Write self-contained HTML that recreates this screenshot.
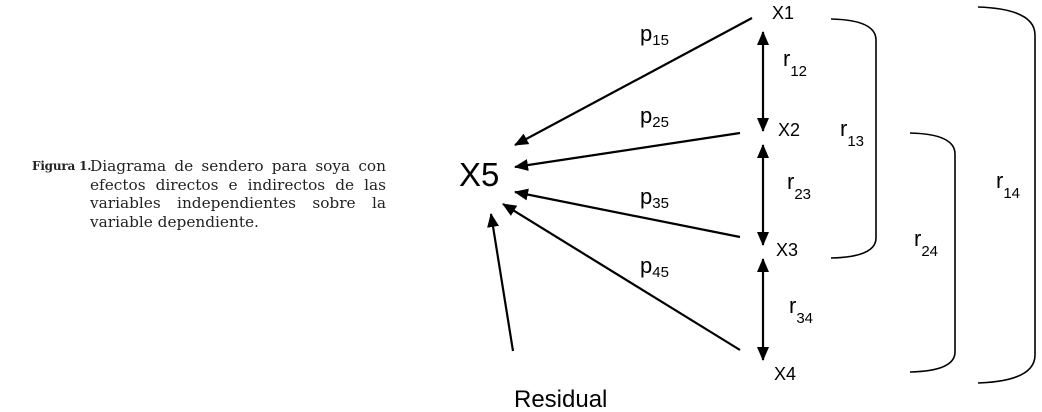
<!DOCTYPE html>
<html><head><meta charset="utf-8"><style>
body{margin:0;background:#fff;width:1042px;height:412px;overflow:hidden;position:relative}
.cap{position:absolute;left:32px;top:157px;font-family:"DejaVu Serif","Liberation Serif",serif;font-size:15.3px;line-height:18.5px;color:#222}
.cap b{position:absolute;left:0;top:0;font-size:12px;letter-spacing:-0.2px}
.cap div{margin-left:58px;width:296px;text-align:justify;text-align-last:left;white-space:normal}
</style></head><body>
<div class="cap"><b>Figura 1.</b><div>Diagrama de sendero para soya con efectos directos e indirectos de las variables independientes sobre la variable dependiente.</div></div>
<svg width="1042" height="412" style="position:absolute;left:0;top:0" font-family="Liberation Sans, sans-serif">
<defs>
<marker id="b" markerWidth="14" markerHeight="12" refX="13" refY="6" orient="auto-start-reverse" markerUnits="userSpaceOnUse"><path d="M0,0 L14,6 L0,12 z" fill="#000"/></marker></defs>
<g stroke="#000" stroke-width="2.2" fill="none">
<line x1="752" y1="18" x2="515" y2="145" marker-end="url(#b)"/>
<line x1="740" y1="133" x2="515" y2="167" marker-end="url(#b)"/>
<line x1="740" y1="237" x2="515" y2="192" marker-end="url(#b)"/>
<line x1="740" y1="350" x2="503" y2="204" marker-end="url(#b)"/>
<line x1="513" y1="351" x2="491" y2="214" marker-end="url(#b)"/>
<line x1="763" y1="32" x2="763" y2="131" marker-start="url(#b)" marker-end="url(#b)"/>
<line x1="763" y1="145" x2="763" y2="245" marker-start="url(#b)" marker-end="url(#b)"/>
<line x1="763" y1="259" x2="763" y2="360" marker-start="url(#b)" marker-end="url(#b)"/>
</g>
<g stroke="#000" stroke-width="1.6" fill="none">
<path d="M831,19 Q876,20 876,40 L876,238 Q876,257 831,258"/>
<path d="M910,133 Q955,134 955,154 L955,352 Q955,371 910,372"/>
<path d="M978,7 Q1035,9 1035,35 L1035,355 Q1035,381 978,383"/>
</g>
<g font-size="18">
<text x="772" y="19">X1</text><text x="778" y="136">X2</text><text x="776" y="256">X3</text><text x="774" y="380">X4</text>
</g>
<text x="459" y="186" font-size="33">X5</text>
<text x="514" y="407" font-size="24">Residual</text>
<g font-size="22">
<text x="640" y="41">p<tspan font-size="15" dy="4">15</tspan></text>
<text x="640" y="123">p<tspan font-size="15" dy="4">25</tspan></text>
<text x="640" y="204">p<tspan font-size="15" dy="4">35</tspan></text>
<text x="640" y="273">p<tspan font-size="15" dy="4">45</tspan></text>
<text x="783" y="66">r<tspan font-size="15" dy="10">12</tspan></text>
<text x="840" y="136">r<tspan font-size="15" dy="10">13</tspan></text>
<text x="787" y="189">r<tspan font-size="15" dy="10">23</tspan></text>
<text x="914" y="246">r<tspan font-size="15" dy="10">24</tspan></text>
<text x="996" y="188">r<tspan font-size="15" dy="10">14</tspan></text>
<text x="789" y="313">r<tspan font-size="15" dy="10">34</tspan></text>
</g>
</svg>
</body></html>
